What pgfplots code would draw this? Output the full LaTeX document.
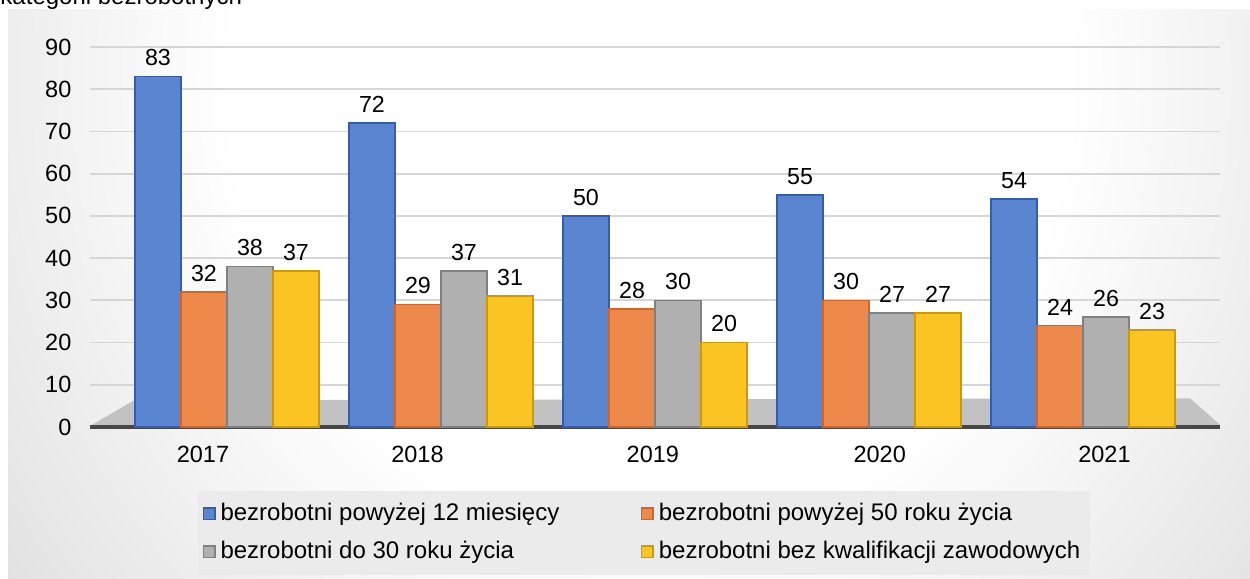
\documentclass[border=0pt]{standalone}
\usepackage{fontspec}
\setmainfont{Liberation Sans}
\usepackage{pgfplots}
\usepackage{pgfplotstable}
\pgfplotsset{compat=1.18}
\definecolor{cBlue}{RGB}{90,133,208}
\definecolor{eBlue}{RGB}{52,92,178}
\definecolor{cOrange}{RGB}{236,137,75}
\definecolor{eOrange}{RGB}{212,100,35}
\definecolor{cGray}{RGB}{176,176,176}
\definecolor{eGray}{RGB}{128,128,128}
\definecolor{cYellow}{RGB}{250,196,35}
\definecolor{eYellow}{RGB}{205,155,0}
\pgfdeclareradialshading{bgshade}{\pgfpointorigin}{color(0bp)=(white); color(7.5bp)=(white); color(25bp)=(black!30); color(50bp)=(black!30)}
\pgfplotstableread{
x b12 p50 d30 bez
0 83 32 38 37
1 72 29 37 31
2 50 28 30 20
3 55 30 27 27
4 54 24 26 23
}\datatab
\begin{document}
\begin{tikzpicture}
\useasboundingbox (0,0) rectangle (500pt,231.6pt);
\node[anchor=base west, inner sep=0pt, font=\fontsize{9.6}{11}\selectfont] at (0pt,229.6pt) {kategorii bezrobotnych};
\begin{scope}
\clip (3.2pt,0pt) rectangle (500pt,227.6pt);
\shade[shading=bgshade] (-300pt,-403.4pt) rectangle (820pt,802.6pt);
\end{scope}
\begin{axis}[
  at={(36pt,60.8pt)}, anchor=south west,
  scale only axis, width=452pt, height=152pt,
  xmin=-0.64, xmax=4.64, ymin=0, ymax=90,
  ytick={0,10,...,90},
  xtick={-0.112,0.89,1.99,3.05,4.10},
  xticklabels={2017,2018,2019,2020,2021},
  axis x line=bottom, axis y line=left,
  x axis line style={-, draw=black!72, line width=1.4pt},
  y axis line style={draw=none},
  major tick style={draw=none},
  ymajorgrids, grid style={black!16, line width=0.7pt},
  /pgf/number format/assume math mode=true,
  ticklabel style={font=\fontsize{9.4}{11}\selectfont},
  yticklabel style={xshift=-1.8pt},
  xticklabel style={yshift=0pt},
  ybar=0pt, bar width=0.215,
  clip=false,
  nodes near coords,
  every node near coord/.append style={font=\fontsize{9.3}{11}\selectfont, text=black, yshift=0.5pt},
  legend columns=2,
  legend cell align=left,
  legend image code/.code={\draw[#1, line width=0.6pt] (0pt,-2.3pt) rectangle (4.6pt,2.3pt);},
  legend style={at={(0.0947,-0.166)}, anchor=north west, fill=black!8, draw=none,
    font=\fontsize{9.6}{11}\selectfont, row sep=2.8pt, inner ysep=3pt, inner xsep=2pt,
    /tikz/every even column/.append style={column sep=30.6pt}},
]
\fill[black!24] (axis cs:-0.63,0.5) -- (axis cs:4.64,0.5) -- (axis cs:4.50,6.8) -- (axis cs:-0.435,6.3) -- cycle;
\addplot[fill=cBlue, draw=eBlue, line width=0.6pt] table[x=x,y=b12]{\datatab};
\addlegendentry{bezrobotni powyżej 12 miesięcy}
\addplot[fill=cOrange, draw=eOrange, line width=0.6pt] table[x=x,y=p50]{\datatab};
\addlegendentry{bezrobotni powyżej 50 roku życia}
\addplot[fill=cGray, draw=eGray, line width=0.6pt] table[x=x,y=d30]{\datatab};
\addlegendentry{bezrobotni do 30 roku życia}
\addplot[fill=cYellow, draw=eYellow, line width=0.6pt] table[x=x,y=bez]{\datatab};
\addlegendentry{bezrobotni bez kwalifikacji zawodowych}
\end{axis}
\end{tikzpicture}
\end{document}
